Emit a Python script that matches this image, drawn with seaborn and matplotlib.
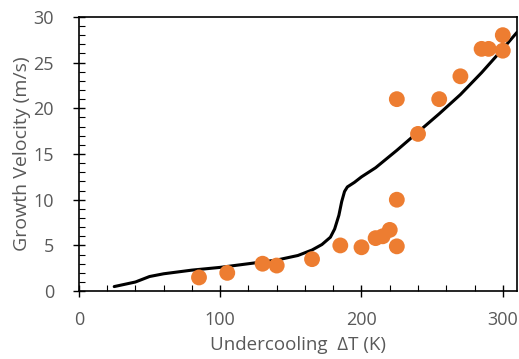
import matplotlib
matplotlib.use('Agg')
import matplotlib.pyplot as plt
import seaborn as sns
from matplotlib.ticker import MultipleLocator

# measured points
meas_dT = [85, 105, 130, 140, 165, 185, 200, 210, 215, 220, 225, 225, 225, 240, 255, 270, 285, 290, 300, 300]
meas_v = [1.5, 2.0, 3.0, 2.8, 3.5, 5.0, 4.8, 5.8, 6.0, 6.7, 4.9, 10.0, 21.0, 17.2, 21.0, 23.5, 26.5, 26.5, 28.0, 26.3]

# model curve
model_dT = [25, 40, 50, 60, 80, 100, 120, 140, 155, 165, 172, 178, 181, 184, 186, 188, 190, 195, 200, 210, 225, 240, 255, 270, 285, 300, 310]
model_v = [0.5, 1.0, 1.6, 1.9, 2.3, 2.6, 3.0, 3.4, 3.9, 4.5, 5.1, 5.9, 6.8, 8.3, 9.8, 10.9, 11.4, 11.9, 12.5, 13.5, 15.4, 17.4, 19.4, 21.5, 23.9, 26.5, 28.3]

sns.set_style('white')
plt.rcParams['font.family'] = ['Open Sans', 'DejaVu Sans']

fig = plt.figure(figsize=(5.19, 3.59), dpi=100)
ax = fig.add_axes([0.152, 0.189, 0.844, 0.764])

sns.lineplot(x=model_dT, y=model_v, color='black', linewidth=2.2, ax=ax, sort=False)
sns.scatterplot(x=meas_dT, y=meas_v, color='#ED7D31', s=130, edgecolor='none', ax=ax, zorder=3)

ax.set_xlim(0, 310)
ax.set_ylim(0, 30)
ax.xaxis.set_major_locator(MultipleLocator(100))
ax.xaxis.set_minor_locator(MultipleLocator(20))
ax.yaxis.set_major_locator(MultipleLocator(5))
ax.yaxis.set_minor_locator(MultipleLocator(1))

grey = '#595959'
ax.tick_params(which='major', direction='inout', length=8, width=1, colors='black', labelcolor=grey, labelsize=13)
ax.tick_params(axis='x', which='major', pad=10)
ax.tick_params(axis='y', which='major', pad=14)
ax.tick_params(which='minor', direction='in', length=4, width=0.8, colors='black')
ax.tick_params(axis='x', which='both', bottom=True)
ax.tick_params(axis='y', which='both', left=True)

for sp in ax.spines.values():
    sp.set_color('black')
    sp.set_linewidth(1.2)

ax.set_xlabel('Undercooling  ΔT (K)', color=grey, fontsize=13.5, labelpad=5)
ax.set_ylabel('Growth Velocity (m/s)', color=grey, fontsize=14, labelpad=2)

fig.savefig('out.png', dpi=100)
